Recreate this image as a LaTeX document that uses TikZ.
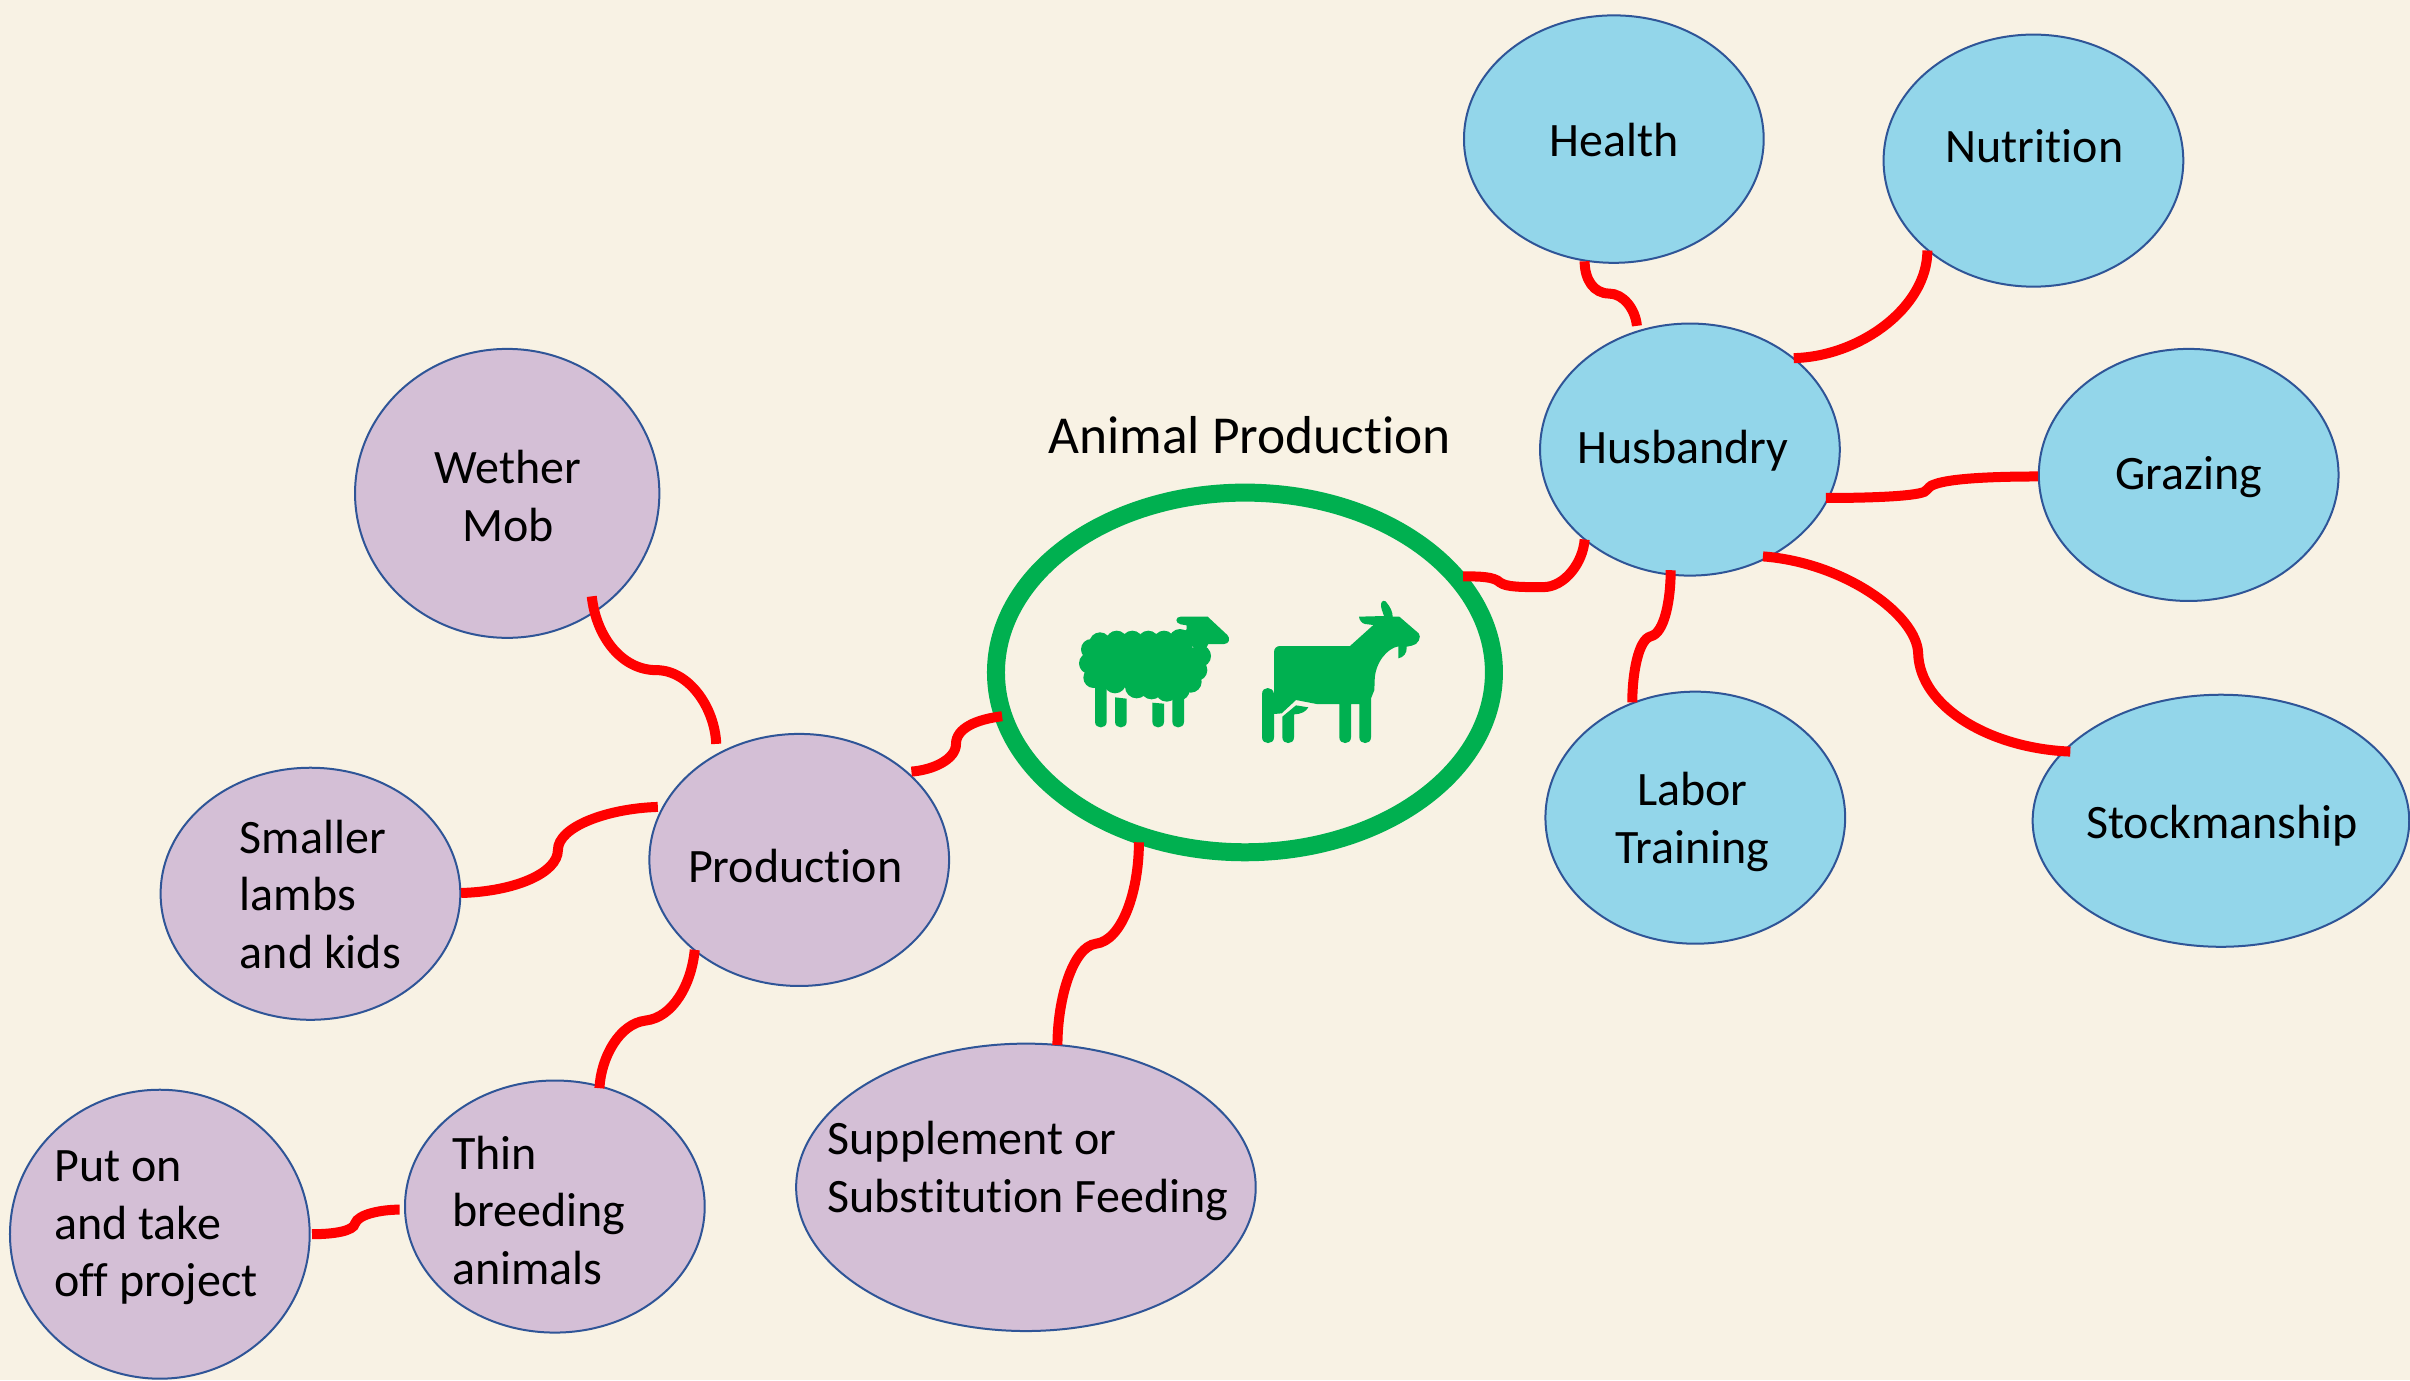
\documentclass[tikz,border=0pt]{standalone}
\usepackage{fontspec}
\setmainfont{Carlito}[Ligatures=NoCommon]
\usetikzlibrary{shapes.geometric,calc}
\definecolor{bgcol}{HTML}{F8F2E4}
\definecolor{bluecol}{HTML}{93D6EA}
\definecolor{purplecol}{HTML}{D4BFD6}
\definecolor{edgecol}{HTML}{2F5597}
\definecolor{linkcol}{HTML}{FF0000}
\definecolor{ringcol}{HTML}{00B050}
% zero-size text block, shifted from the node centre; shifts in pt
\newcommand\cell[4]{\makebox[0pt][c]{\hspace*{#1}\hspace*{#1}\raisebox{#2}[0pt][0pt]{\begin{tabular}[c]{@{}#3@{}}#4\end{tabular}}}}
\tikzset{
  bubble/.style={ellipse,draw=edgecol,line width=1pt,inner sep=0pt,outer sep=0pt,
    font=\fontsize{24}{28.8}\selectfont,text=black,
    minimum width=195*0.7685pt,minimum height=164*0.7685pt},
  bluebub/.style={bubble,fill=bluecol},
  purplebub/.style={bubble,fill=purplecol},
  link/.style={draw=linkcol,line width=5pt,line cap=butt},
  hub/.style={ellipse,draw=ringcol,line width=9pt,inner sep=0pt,outer sep=0pt,
    minimum width=324*0.7685pt,minimum height=234*0.7685pt},
  title/.style={font=\fontsize{26.7}{32}\selectfont,text=black,inner sep=0pt},
}
\begin{document}
\begin{tikzpicture}[x=0.7685pt,y=-0.7685pt]
\useasboundingbox (0,0) rectangle (1568,898);
\fill[bgcol] (0,0) rectangle (1568,898);

% nodes
\node[hub] (hub) at (810,437.5) {};
\node[title] (ttl) at (813,283) {Animal Production};

\node[bluebub,minimum height=161*0.7685pt] (health) at (1050,90.5) {\cell{0pt}{-9pt}{c}{Health}};
\node[bluebub] (nutr) at (1323,104.5) {\cell{0.5pt}{-1.5pt}{c}{Nutrition}};
\node[bluebub] (hus) at (1099.5,292.5) {\cell{-3.5pt}{-7.5pt}{c}{Husbandry}};
\node[bluebub] (graz) at (1424,309) {\cell{0pt}{-7.5pt}{c}{Grazing}};
\node[bluebub,minimum width=245*0.7685pt] (stock) at (1445,534) {\cell{0.5pt}{-9.5pt}{c}{Stockmanship}};
\node[bluebub] (labor) at (1103,532) {\cell{-1.5pt}{-9pt}{c}{Labor\\Training}};

\node[purplebub,minimum width=198*0.7685pt,minimum height=188*0.7685pt] (wether) at (330,321) {\cell{0.5pt}{-10pt}{c}{Wether\\Mob}};
\node[purplebub] (small) at (202,581.5) {\cell{5pt}{-9pt}{l}{Smaller\\lambs\\and kids}};
\node[purplebub] (prod) at (520,559.5) {\cell{-2pt}{-11.5pt}{c}{Production}};
\node[purplebub] (thin) at (361,785) {\cell{-8pt}{-10.5pt}{l}{Thin\\breeding\\animals}};
\node[purplebub,minimum height=188*0.7685pt] (puton) at (104,803) {\cell{-2pt}{-3pt}{l}{Put on\\and take\\off project}};
\node[purplebub,minimum width=299*0.7685pt,minimum height=187*0.7685pt] (supp) at (667.5,772.5) {\cell{1pt}{1.5pt}{l}{Supplement or\\Substitution Feeding}};

% connectors
\draw[link] ($(hub)+(142,-62.5)$) .. controls (962,375) and (972,375) .. (976,379) .. controls (980,382) and (990,382) .. (1004,382) .. controls (1018,382) and (1030,366) .. ($(hus)+(-68.5,58.5)$);
\draw[link] ($(health)+(-19,79.5)$) .. controls (1031,182) and (1037,191) .. (1047,191) .. controls (1056,191) and (1064,201) .. ($(hus)+(-34.5,-80.5)$);
\draw[link] ($(nutr)+(-69,58.5)$) .. controls (1254,200) and (1210,232) .. ($(hus)+(67.5,-59.5)$);
\draw[link] ($(hus)+(88.5,31.5)$) .. controls (1215,324) and (1245,323) .. (1252,320) .. controls (1255,318) and (1255,316) .. (1259,315) .. controls (1270,311) and (1300,310) .. ($(graz)+(-98,1)$);
\draw[link] ($(hus)+(47.5,69.5)$) .. controls (1200,366) and (1247,400) .. (1248,425) .. controls (1249,460) and (1295,487) .. ($(stock)+(-98,-45)$);
\draw[link] ($(hus)+(-12.5,78.5)$) .. controls (1087,390) and (1083,412) .. (1074,414) .. controls (1066,416) and (1062,438) .. ($(labor)+(-41,-75)$);
\draw[link] ($(hub)+(-158,28.5)$) .. controls (635,468) and (622,474) .. (622,484) .. controls (622,494) and (607,501) .. ($(prod)+(73,-57.5)$);
\draw[link] ($(hub)+(-69,110.5)$) .. controls (741,580) and (730,612) .. (713,614) .. controls (698,616) and (688,650) .. ($(supp)+(20.5,-92.5)$);
\draw[link] ($(wether)+(55,67)$) .. controls (388,415) and (405,436) .. (427,436) .. controls (448,436) and (465,460) .. ($(prod)+(-54,-75.5)$);
\draw[link] ($(small)+(98,-0.5)$) .. controls (335,580) and (363,568) .. (363,553) .. controls (363,538) and (395,526) .. ($(prod)+(-92,-34.5)$);
\draw[link] ($(prod)+(-68,58.5)$) .. controls (450,640) and (438,662) .. (420,664) .. controls (403,666) and (391,688) .. ($(thin)+(29,-77)$);
\draw[link] ($(puton)+(99,0)$) .. controls (217,803) and (230,801) .. (231,796) .. controls (233,790) and (248,787) .. ($(thin)+(-101,2)$);

% sheep and goat
\begin{scope}[shift={(520pt,-290pt)},x=0.16667pt,y=-0.16667pt]
  % sheep wool
  \fill[ringcol] (180,189) circle[radius=32] (230,184) circle[radius=32] (277,184) circle[radius=32]
    (325,184) circle[radius=32] (372,184) circle[radius=32] (420,180) circle[radius=33]
    (154,208) circle[radius=31] (149,250) circle[radius=32] (161,293) circle[radius=31]
    (225,306) circle[radius=34] (290,320) circle[radius=35] (335,323) circle[radius=35] (380,332) circle[radius=33]
    (418,330) circle[radius=31] (452,305) circle[radius=33] (469,270) circle[radius=33] (480,228) circle[radius=33];
  \fill[ringcol] (160,180) -- (440,165) -- (475,240) -- (440,330) -- (160,315) -- cycle;
  % sheep head
  \fill[ringcol] (422,110) -- (503,110) -- (562,165) .. controls (572,175) and (568,192) .. (552,192) -- (505,192) -- (490,220) -- (410,170) -- (440,148) -- (440,136) -- (422,133) .. controls (405,130) and (405,110) .. (422,110) -- cycle;
  % sheep legs
  \fill[ringcol] (165,300) -- (200,300) -- (200,425) .. controls (200,448) and (165,448) .. (165,425) -- cycle;
  \fill[ringcol] (225,352) -- (260,356) -- (260,425) .. controls (260,448) and (225,448) .. (225,425) -- cycle;
  \fill[ringcol] (337,368) -- (372,371) -- (372,425) .. controls (372,448) and (337,448) .. (337,425) -- cycle;
  \fill[ringcol] (397,320) -- (432,320) -- (432,425) .. controls (432,448) and (397,448) .. (397,425) -- cycle;
  % goat
  \fill[ringcol] (720,198) -- (930,198) -- (1000,135) -- (975,132) .. controls (965,130) and (958,120) .. (957,110) -- (1032,108) .. controls (1028,95) and (1022,85) .. (1023,72) .. controls (1025,60) and (1035,60) .. (1040,68) .. controls (1050,80) and (1058,95) .. (1058,110) -- (1078,110) -- (1136,160) .. controls (1145,170) and (1135,195) .. (1115,197) -- (1100,200) .. controls (1102,220) and (1090,232) .. (1075,235) -- (1075,199) .. controls (1040,205) and (1005,250) .. (1004,300) -- (1003,330) -- (993,355) -- (993,472) .. controls (993,495) and (958,495) .. (958,472) -- (958,372) -- (933,372) -- (933,472) .. controls (933,495) and (898,495) .. (898,472) -- (898,372) -- (830,372) -- (768,360) -- (725,400) -- (702,402) -- (702,472) .. controls (702,495) and (666,495) .. (666,472) -- (666,342) .. controls (666,318) and (700,318) .. (702,342) -- (702,216) .. controls (702,205) and (710,198) .. (720,198) -- cycle;
  \fill[ringcol] (727,410) -- (768,376) -- (805,382) .. controls (797,395) and (785,402) .. (762,403) -- (762,472) .. controls (762,495) and (727,495) .. (727,472) -- cycle;
\end{scope}
\end{tikzpicture}
\end{document}
